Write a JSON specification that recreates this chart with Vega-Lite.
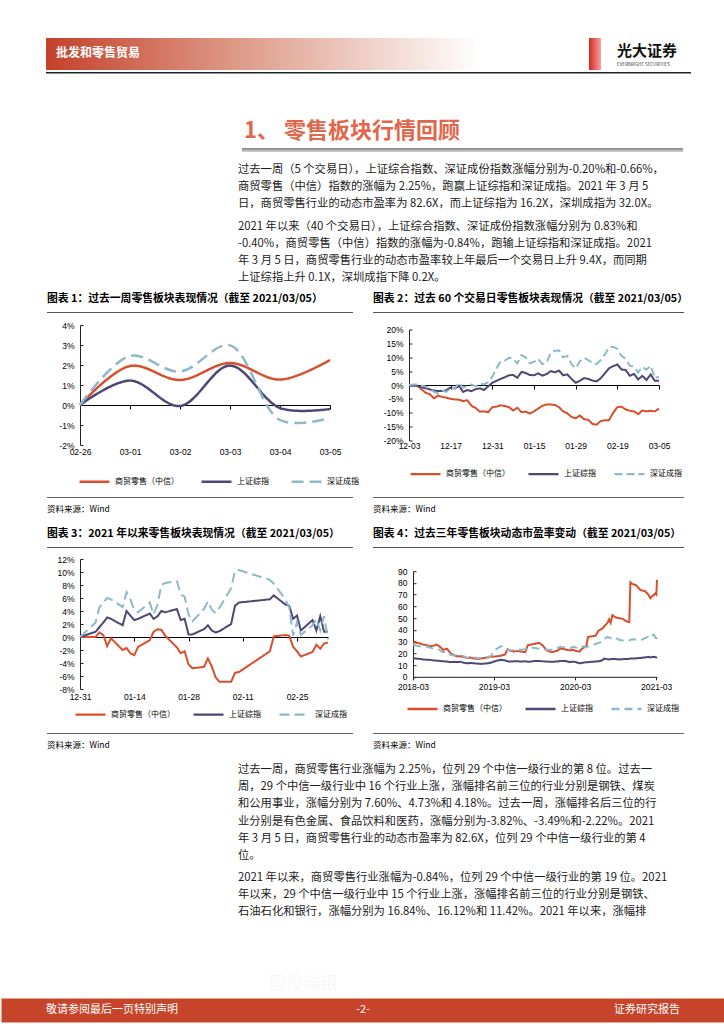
{
"$schema": "https://vega.github.io/schema/vega-lite/v6.json",
"padding": 0,
"background": "white",
"spacing": 0,
"bounds": "flush",
"resolve": {"scale": {"color": "independent", "strokeDash": "independent"}, "legend": {"color": "independent", "strokeDash": "independent"}},
"config": {
  "view": {"stroke": null},
  "font": "Noto Sans CJK SC",
  "concat": {"spacing": 0},
  "axis": {"labelFont": "Liberation Sans", "labelFontSize": 8.5, "labelColor": "#000", "domainColor": "#222", "tickColor": "#222", "grid": false, "labelFlush": false, "labelOverlap": false, "domainWidth": 1, "tickWidth": 1},
  "axisY": {"tickSize": -3, "labelPadding": 9},
  "axisX": {"labelAngle": 0, "tickSize": 4},
  "legend": {"orient": "none", "direction": "horizontal", "symbolType": "stroke", "symbolSize": 900, "labelFontSize": 8, "labelFont": "Noto Sans CJK SC", "labelColor": "#000", "labelOffset": 4, "padding": 0, "columnPadding": 15},
  "text": {"font": "Noto Sans CJK SC"},
  "title": {"font": "Noto Sans CJK SC"}
},
"vconcat": [
  {"width": 724, "height": 38, "data": {"values": [{}]}, "mark": {"type": "text", "text": ""}},
  {"hconcat": [
    {"width": 45, "height": 32, "data": {"values": [{}]}, "mark": {"type": "text", "text": ""}},
    {"width": 435, "height": 32, "data": {"values": [{}]}, "mark": {"type": "text", "text": ""},
     "view": {"stroke": null, "fill": {"gradient": "linear", "x1": 0, "y1": 0, "x2": 1, "y2": 0, "stops": [{"offset": 0, "color": "#C4412A"}, {"offset": 0.45, "color": "#DE9C8A"}, {"offset": 1, "color": "#FFFFFF"}]}},
     "title": {"text": "批发和零售贸易", "anchor": "start", "dx": 10, "offset": -21.5, "fontSize": 12, "fontWeight": "bold", "color": "#FFFFFF"}},
    {"width": 108, "height": 32, "data": {"values": [{}]}, "mark": {"type": "text", "text": ""}},
    {"width": 12, "height": 32, "data": {"values": [{}]}, "mark": {"type": "text", "text": ""},
     "view": {"stroke": null, "fill": {"gradient": "linear", "x1": 0, "y1": 0, "x2": 1, "y2": 0, "stops": [{"offset": 0, "color": "#D7261E"}, {"offset": 1, "color": "#F3A2A0"}]}},
     "title": {"text": "光大证券", "subtitle": "EVERBRIGHT SECURITIES", "anchor": "start", "dx": 28, "offset": -28, "fontSize": 15, "fontWeight": "bold", "color": "#111", "subtitleFontSize": 4.5, "subtitleColor": "#333", "subtitlePadding": 3}}
  ], "spacing": 0, "bounds": "flush"},
  {"width": 724, "height": 32, "data": {"values": [{}]}, "mark": {"type": "text", "text": ""}},
  {"width": 724, "height": 2, "data": {"values": [{}]}, "mark": {"type": "text", "text": ""}},
  {"hconcat": [
    {"width": 45, "height": 1.5, "data": {"values": [{}]}, "mark": {"type": "text", "text": ""}},
    {"width": 645, "height": 1.5, "data": {"values": [{}]}, "mark": {"type": "text", "text": ""}, "view": {"stroke": null, "fill": "#222"}}
  ], "spacing": 0, "bounds": "flush"},
  {"width": 724, "height": 2, "data": {"values": [{}]}, "mark": {"type": "text", "text": ""}},
  {"width": 724, "height": 74, "data": {"values": [{}]}, "mark": {"type": "text", "text": ""}},
  {"hconcat": [
    {"width": 241, "height": 4, "data": {"values": [{}]}, "mark": {"type": "text", "text": ""}},
    {"width": 441, "height": 4, "data": {"values": [{}]}, "mark": {"type": "text", "text": ""},
     "view": {"stroke": null, "fill": {"gradient": "linear", "x1": 0, "y1": 0, "x2": 0, "y2": 1, "stops": [{"offset": 0, "color": "#808080"}, {"offset": 1, "color": "#D5D5D5"}]}},
     "title": {"text": "1、  零售板块行情回顾", "anchor": "start", "dx": 2, "offset": 1, "fontSize": 22, "fontWeight": "bold", "color": "#E2664A"}}
  ], "spacing": 0, "bounds": "flush"},
  {"width": 724, "height": 4, "data": {"values": [{}]}, "mark": {"type": "text", "text": ""}},
  {"width": 724, "height": 9, "data": {"values": [{}]}, "mark": {"type": "text", "text": ""}},
  {"hconcat": [
    {"width": 237, "height": 52, "data": {"values": [{}]}, "mark": {"type": "text", "text": ""}},
    {"width": 446, "height": 52,
     "data": {"values": [
       {"i": 1, "t": "过去一周（5 个交易日），上证综合指数、深证成份指数涨幅分别为-0.20%和-0.66%，"},
       {"i": 2, "t": "商贸零售（中信）指数的涨幅为 2.25%，跑赢上证综指和深证成指。2021 年 3 月 5"},
       {"i": 3, "t": "日，商贸零售行业的动态市盈率为 82.6X，而上证综指为 16.2X，深圳成指为 32.0X。"}
     ]},
     "mark": {"type": "text", "align": "left", "baseline": "middle", "fontSize": 11.3, "color": "#1A1A1A"},
     "encoding": {
       "y": {"field": "i", "type": "ordinal", "axis": null, "scale": {"type": "band", "paddingInner": 0, "paddingOuter": 0}},
       "x": {"datum": 0, "type": "quantitative", "scale": {"domain": [0, 1]}, "axis": null},
       "text": {"field": "t"}
     }}
  ], "spacing": 0, "bounds": "flush"},
  {"width": 724, "height": 52, "data": {"values": [{}]}, "mark": {"type": "text", "text": ""}},
  {"width": 724, "height": 5, "data": {"values": [{}]}, "mark": {"type": "text", "text": ""}},
  {"hconcat": [
    {"width": 237, "height": 69, "data": {"values": [{}]}, "mark": {"type": "text", "text": ""}},
    {"width": 446, "height": 69,
     "data": {"values": [
       {"i": 1, "t": "2021 年以来（40 个交易日），上证综合指数、深证成份指数涨幅分别为 0.83%和"},
       {"i": 2, "t": "-0.40%，商贸零售（中信）指数的涨幅为-0.84%，跑输上证综指和深证成指。2021"},
       {"i": 3, "t": "年 3 月 5 日，商贸零售行业的动态市盈率较上年最后一个交易日上升 9.4X，而同期"},
       {"i": 4, "t": "上证综指上升 0.1X，深圳成指下降 0.2X。"}
     ]},
     "mark": {"type": "text", "align": "left", "baseline": "middle", "fontSize": 11.3, "color": "#1A1A1A"},
     "encoding": {
       "y": {"field": "i", "type": "ordinal", "axis": null, "scale": {"type": "band", "paddingInner": 0, "paddingOuter": 0}},
       "x": {"datum": 0, "type": "quantitative", "scale": {"domain": [0, 1]}, "axis": null},
       "text": {"field": "t"}
     }}
  ], "spacing": 0, "bounds": "flush"},
  {"width": 724, "height": 69, "data": {"values": [{}]}, "mark": {"type": "text", "text": ""}},
  {"width": 724, "height": 25, "data": {"values": [{}]}, "mark": {"type": "text", "text": ""}},
  {"hconcat": [
    {"width": 46, "height": 1, "data": {"values": [{}]}, "mark": {"type": "text", "text": ""}},
    {"width": 306, "height": 1, "data": {"values": [{}]}, "mark": {"type": "text", "text": ""}, "view": {"stroke": null, "fill": "#555"},
     "title": {"text": "图表 1：过去一周零售板块表现情况（截至 2021/03/05）", "anchor": "start", "offset": 3, "fontSize": 10.8, "fontWeight": "bold", "color": "#000"}},
    {"width": 20, "height": 1, "data": {"values": [{}]}, "mark": {"type": "text", "text": ""}},
    {"width": 311, "height": 1, "data": {"values": [{}]}, "mark": {"type": "text", "text": ""}, "view": {"stroke": null, "fill": "#555"},
     "title": {"text": "图表 2：过去 60 个交易日零售板块表现情况（截至 2021/03/05）", "anchor": "start", "offset": 3, "fontSize": 10.8, "fontWeight": "bold", "color": "#000"}}
  ], "spacing": 0, "bounds": "flush"},
  {"width": 724, "height": 1, "data": {"values": [{}]}, "mark": {"type": "text", "text": ""}},
  {"width": 724, "height": 12, "data": {"values": [{}]}, "mark": {"type": "text", "text": ""}},
  {"hconcat": [
    {"width": 79, "height": 120, "data": {"values": [{}]}, "mark": {"type": "text", "text": ""}},
    {"width": 250, "height": 120,
     "data": {"values": [
       {"d":"02-26","s":"r","v":0},{"d":"03-01","s":"r","v":1.95},{"d":"03-02","s":"r","v":1.25},{"d":"03-03","s":"r","v":2.1},{"d":"03-04","s":"r","v":1.27},{"d":"03-05","s":"r","v":2.25},
       {"d":"02-26","s":"p","v":0},{"d":"03-01","s":"p","v":1.22},{"d":"03-02","s":"p","v":-0.05},{"d":"03-03","s":"p","v":1.97},{"d":"03-04","s":"p","v":-0.15},{"d":"03-05","s":"p","v":-0.2},
       {"d":"02-26","s":"b","v":0},{"d":"03-01","s":"b","v":2.45},{"d":"03-02","s":"b","v":1.67},{"d":"03-03","s":"b","v":2.98},{"d":"03-04","s":"b","v":-0.75},{"d":"03-05","s":"b","v":-0.66}
     ]},
     "mark": {"type": "line", "interpolate": "catmull-rom", "strokeWidth": 2.5},
     "encoding": {
       "x": {"field": "d", "type": "ordinal", "sort": null, "scale": {"type": "point", "padding": 0}, "axis": {"title": null, "offset": -40, "labelPadding": 38.5, "domainColor": "#000", "tickColor": "#000"}},
       "y": {"field": "v", "type": "quantitative", "scale": {"domain": [-2, 4], "nice": false, "zero": false}, "axis": {"title": null, "values": [-2,-1,0,1,2,3,4], "labelExpr": "datum.value + '%'"}},
       "color": {"field": "s", "type": "nominal", "scale": {"domain": ["r","p","b"], "range": ["#D94E2B","#4E4674","#8FB8CB"]},
         "legend": {"title": null, "legendX": -2, "legendY": 140, "symbolStrokeWidth": 2.5, "columnPadding": 17, "labelExpr": "datum.label == 'r' ? '商贸零售（中信）' : datum.label == 'p' ? '上证综指' : '深证成指'"}},
       "strokeDash": {"field": "s", "type": "nominal", "scale": {"domain": ["r","p","b"], "range": [[1,0],[1,0],[12,6]]},
         "legend": {"title": null, "legendX": -2, "legendY": 140, "symbolStrokeWidth": 2.5, "columnPadding": 17, "labelExpr": "datum.label == 'r' ? '商贸零售（中信）' : datum.label == 'p' ? '上证综指' : '深证成指'"}}
     }},
    {"width": 79, "height": 120, "data": {"values": [{}]}, "mark": {"type": "text", "text": ""}},
    {"width": 250, "height": 111,
     "data": {"values": [
{"d":"12-03","s":"r","v":0},{"d":"12-04","s":"r","v":-0.1},{"d":"12-07","s":"r","v":-0.3},{"d":"12-08","s":"r","v":-1.5},{"d":"12-09","s":"r","v":-2.8},{"d":"12-10","s":"r","v":-3.3},{"d":"12-11","s":"r","v":-4.8},{"d":"12-14","s":"r","v":-3.8},{"d":"12-15","s":"r","v":-4.3},{"d":"12-16","s":"r","v":-4.6},{"d":"12-17","s":"r","v":-5.0},{"d":"12-18","s":"r","v":-5.2},{"d":"12-21","s":"r","v":-5.3},{"d":"12-22","s":"r","v":-5.8},{"d":"12-23","s":"r","v":-5.5},{"d":"12-24","s":"r","v":-7.5},{"d":"12-25","s":"r","v":-8.3},{"d":"12-28","s":"r","v":-9.6},{"d":"12-29","s":"r","v":-9.5},{"d":"12-30","s":"r","v":-9.8},{"d":"12-31","s":"r","v":-8.0},{"d":"01-04","s":"r","v":-7.8},{"d":"01-05","s":"r","v":-7.3},{"d":"01-06","s":"r","v":-7.6},{"d":"01-07","s":"r","v":-8.0},{"d":"01-08","s":"r","v":-9.2},{"d":"01-11","s":"r","v":-8.2},{"d":"01-12","s":"r","v":-9.8},{"d":"01-13","s":"r","v":-9.6},{"d":"01-14","s":"r","v":-10.3},{"d":"01-15","s":"r","v":-9.5},{"d":"01-18","s":"r","v":-8.5},{"d":"01-19","s":"r","v":-7.5},{"d":"01-20","s":"r","v":-7.0},{"d":"01-21","s":"r","v":-7.0},{"d":"01-22","s":"r","v":-7.2},{"d":"01-25","s":"r","v":-8.0},{"d":"01-26","s":"r","v":-9.5},{"d":"01-27","s":"r","v":-10.2},{"d":"01-28","s":"r","v":-11.5},{"d":"01-29","s":"r","v":-12.0},{"d":"02-01","s":"r","v":-11.0},{"d":"02-02","s":"r","v":-12.3},{"d":"02-03","s":"r","v":-12.5},{"d":"02-04","s":"r","v":-14.0},{"d":"02-05","s":"r","v":-14.3},{"d":"02-08","s":"r","v":-13.0},{"d":"02-09","s":"r","v":-12.7},{"d":"02-10","s":"r","v":-12.7},{"d":"02-18","s":"r","v":-10.0},{"d":"02-19","s":"r","v":-8.0},{"d":"02-22","s":"r","v":-7.8},{"d":"02-23","s":"r","v":-8.8},{"d":"02-24","s":"r","v":-9.3},{"d":"02-25","s":"r","v":-9.5},{"d":"02-26","s":"r","v":-10.5},{"d":"03-01","s":"r","v":-9.2},{"d":"03-02","s":"r","v":-9.5},{"d":"03-03","s":"r","v":-9.3},{"d":"03-04","s":"r","v":-9.5},{"d":"03-05","s":"r","v":-8.5},
{"d":"12-03","s":"p","v":0},{"d":"12-04","s":"p","v":-0.2},{"d":"12-07","s":"p","v":-0.3},{"d":"12-08","s":"p","v":-0.8},{"d":"12-09","s":"p","v":-1.2},{"d":"12-10","s":"p","v":-1.6},{"d":"12-11","s":"p","v":-2.0},{"d":"12-14","s":"p","v":-2.2},{"d":"12-15","s":"p","v":-2.2},{"d":"12-16","s":"p","v":-1.8},{"d":"12-17","s":"p","v":-0.9},{"d":"12-18","s":"p","v":-1.2},{"d":"12-21","s":"p","v":-0.3},{"d":"12-22","s":"p","v":-2.5},{"d":"12-23","s":"p","v":-1.8},{"d":"12-24","s":"p","v":-2.2},{"d":"12-25","s":"p","v":-1.5},{"d":"12-28","s":"p","v":-1.2},{"d":"12-29","s":"p","v":-1.8},{"d":"12-30","s":"p","v":-0.5},{"d":"12-31","s":"p","v":0.8},{"d":"01-04","s":"p","v":1.5},{"d":"01-05","s":"p","v":2.2},{"d":"01-06","s":"p","v":2.8},{"d":"01-07","s":"p","v":3.5},{"d":"01-08","s":"p","v":3.6},{"d":"01-11","s":"p","v":2.6},{"d":"01-12","s":"p","v":4.7},{"d":"01-13","s":"p","v":4.3},{"d":"01-14","s":"p","v":3.6},{"d":"01-15","s":"p","v":3.5},{"d":"01-18","s":"p","v":4.2},{"d":"01-19","s":"p","v":3.4},{"d":"01-20","s":"p","v":3.9},{"d":"01-21","s":"p","v":5.0},{"d":"01-22","s":"p","v":4.6},{"d":"01-25","s":"p","v":5.2},{"d":"01-26","s":"p","v":3.5},{"d":"01-27","s":"p","v":3.8},{"d":"01-28","s":"p","v":2.2},{"d":"01-29","s":"p","v":0.8},{"d":"02-01","s":"p","v":1.5},{"d":"02-02","s":"p","v":2.5},{"d":"02-03","s":"p","v":2.2},{"d":"02-04","s":"p","v":1.6},{"d":"02-05","s":"p","v":1.3},{"d":"02-08","s":"p","v":2.4},{"d":"02-09","s":"p","v":4.2},{"d":"02-10","s":"p","v":6.0},{"d":"02-18","s":"p","v":6.8},{"d":"02-19","s":"p","v":7.4},{"d":"02-22","s":"p","v":5.6},{"d":"02-23","s":"p","v":5.4},{"d":"02-24","s":"p","v":3.3},{"d":"02-25","s":"p","v":4.0},{"d":"02-26","s":"p","v":2.0},{"d":"03-01","s":"p","v":3.3},{"d":"03-02","s":"p","v":1.8},{"d":"03-03","s":"p","v":3.8},{"d":"03-04","s":"p","v":1.5},{"d":"03-05","s":"p","v":1.5},
{"d":"12-03","s":"b","v":0},{"d":"12-04","s":"b","v":0.2},{"d":"12-07","s":"b","v":0.2},{"d":"12-08","s":"b","v":-0.3},{"d":"12-09","s":"b","v":-0.5},{"d":"12-10","s":"b","v":-1.5},{"d":"12-11","s":"b","v":-2.5},{"d":"12-14","s":"b","v":-3.0},{"d":"12-15","s":"b","v":-2.0},{"d":"12-16","s":"b","v":-2.5},{"d":"12-17","s":"b","v":-1.0},{"d":"12-18","s":"b","v":-1.2},{"d":"12-21","s":"b","v":0.8},{"d":"12-22","s":"b","v":-1.0},{"d":"12-23","s":"b","v":-0.2},{"d":"12-24","s":"b","v":0.2},{"d":"12-25","s":"b","v":-0.5},{"d":"12-28","s":"b","v":0.5},{"d":"12-29","s":"b","v":0.2},{"d":"12-30","s":"b","v":1.0},{"d":"12-31","s":"b","v":3.0},{"d":"01-04","s":"b","v":6.0},{"d":"01-05","s":"b","v":8.5},{"d":"01-06","s":"b","v":8.8},{"d":"01-07","s":"b","v":9.8},{"d":"01-08","s":"b","v":9.5},{"d":"01-11","s":"b","v":7.8},{"d":"01-12","s":"b","v":10.8},{"d":"01-13","s":"b","v":10.0},{"d":"01-14","s":"b","v":7.8},{"d":"01-15","s":"b","v":8.3},{"d":"01-18","s":"b","v":9.5},{"d":"01-19","s":"b","v":7.5},{"d":"01-20","s":"b","v":8.0},{"d":"01-21","s":"b","v":11.5},{"d":"01-22","s":"b","v":12.3},{"d":"01-25","s":"b","v":12.5},{"d":"01-26","s":"b","v":10.0},{"d":"01-27","s":"b","v":10.5},{"d":"01-28","s":"b","v":7.5},{"d":"01-29","s":"b","v":6.0},{"d":"02-01","s":"b","v":8.5},{"d":"02-02","s":"b","v":9.8},{"d":"02-03","s":"b","v":9.0},{"d":"02-04","s":"b","v":8.0},{"d":"02-05","s":"b","v":7.5},{"d":"02-08","s":"b","v":9.0},{"d":"02-09","s":"b","v":11.0},{"d":"02-10","s":"b","v":13.5},{"d":"02-18","s":"b","v":13.8},{"d":"02-19","s":"b","v":13.0},{"d":"02-22","s":"b","v":10.5},{"d":"02-23","s":"b","v":9.5},{"d":"02-24","s":"b","v":7.0},{"d":"02-25","s":"b","v":6.5},{"d":"02-26","s":"b","v":4.5},{"d":"03-01","s":"b","v":6.5},{"d":"03-02","s":"b","v":5.5},{"d":"03-03","s":"b","v":7.0},{"d":"03-04","s":"b","v":2.5},{"d":"03-05","s":"b","v":3.0}
     ]},
     "mark": {"type": "line", "strokeWidth": 2},
     "encoding": {
       "x": {"field": "d", "type": "ordinal", "sort": null, "scale": {"type": "point", "padding": 0},
             "axis": {"title": null, "labelExpr": "indexof(['12-03','12-17','12-31','01-15','01-29','02-19','03-05'], datum.value) >= 0 ? datum.value : ''",
                      "tickOpacity": {"condition": {"test": "indexof(['12-03','12-17','12-31','01-15','01-29','02-19','03-05'], datum.value) >= 0", "value": 1}, "value": 0},
                      "labelOverlap": false, "offset": -55.5, "labelPadding": 52.7, "domainColor": "#000", "tickColor": "#000"}},
       "y": {"field": "v", "type": "quantitative", "scale": {"domain": [-20, 20], "nice": false, "zero": false}, "axis": {"title": null, "values": [-20,-15,-10,-5,0,5,10,15,20], "labelExpr": "datum.value + '%'"}},
       "color": {"field": "s", "type": "nominal", "scale": {"domain": ["r","p","b"], "range": ["#D94E2B","#4E4674","#8FB8CB"]},
         "legend": {"title": null, "legendX": 0, "legendY": 128, "symbolStrokeWidth": 2.2, "columnPadding": 14, "labelExpr": "datum.label == 'r' ? '商贸零售（中信）' : datum.label == 'p' ? '上证综指' : '深证成指'"}},
       "strokeDash": {"field": "s", "type": "nominal", "scale": {"domain": ["r","p","b"], "range": [[1,0],[1,0],[8,4]]},
         "legend": {"title": null, "legendX": 0, "legendY": 128, "symbolStrokeWidth": 2.2, "columnPadding": 14, "labelExpr": "datum.label == 'r' ? '商贸零售（中信）' : datum.label == 'p' ? '上证综指' : '深证成指'"}}
     }}
  ], "spacing": 0, "bounds": "flush", "center": true,
  "resolve": {"scale": {"color": "independent", "strokeDash": "independent"}, "legend": {"color": "independent", "strokeDash": "independent"}}},
  {"width": 724, "height": 120, "data": {"values": [{}]}, "mark": {"type": "text", "text": ""}},
  {"width": 724, "height": 52, "data": {"values": [{}]}, "mark": {"type": "text", "text": ""}},
  {"hconcat": [
    {"width": 46, "height": 1, "data": {"values": [{}]}, "mark": {"type": "text", "text": ""}},
    {"width": 306, "height": 1, "data": {"values": [{}]}, "mark": {"type": "text", "text": ""}, "view": {"stroke": null, "fill": "#666"},
     "title": {"text": "资料来源：Wind", "orient": "bottom", "anchor": "start", "offset": 2, "fontSize": 8.5, "fontWeight": "normal", "color": "#000"}},
    {"width": 20, "height": 1, "data": {"values": [{}]}, "mark": {"type": "text", "text": ""}},
    {"width": 311, "height": 1, "data": {"values": [{}]}, "mark": {"type": "text", "text": ""}, "view": {"stroke": null, "fill": "#666"},
     "title": {"text": "资料来源：Wind", "orient": "bottom", "anchor": "start", "offset": 2, "fontSize": 8.5, "fontWeight": "normal", "color": "#000"}}
  ], "spacing": 0, "bounds": "flush"},
  {"width": 724, "height": 1, "data": {"values": [{}]}, "mark": {"type": "text", "text": ""}},
  {"width": 724, "height": 49, "data": {"values": [{}]}, "mark": {"type": "text", "text": ""}},
  {"hconcat": [
    {"width": 46, "height": 1, "data": {"values": [{}]}, "mark": {"type": "text", "text": ""}},
    {"width": 306, "height": 1, "data": {"values": [{}]}, "mark": {"type": "text", "text": ""}, "view": {"stroke": null, "fill": "#555"},
     "title": {"text": "图表 3：2021 年以来零售板块表现情况（截至 2021/03/05）", "anchor": "start", "offset": 3, "fontSize": 10.8, "fontWeight": "bold", "color": "#000"}},
    {"width": 20, "height": 1, "data": {"values": [{}]}, "mark": {"type": "text", "text": ""}},
    {"width": 311, "height": 1, "data": {"values": [{}]}, "mark": {"type": "text", "text": ""}, "view": {"stroke": null, "fill": "#555"},
     "title": {"text": "图表 4：过去三年零售板块动态市盈率变动（截至 2021/03/05）", "anchor": "start", "offset": 3, "fontSize": 10.8, "fontWeight": "bold", "color": "#000"}}
  ], "spacing": 0, "bounds": "flush"},
  {"width": 724, "height": 1, "data": {"values": [{}]}, "mark": {"type": "text", "text": ""}},
  {"width": 724, "height": 11, "data": {"values": [{}]}, "mark": {"type": "text", "text": ""}},
  {"hconcat": [
    {"width": 79, "height": 130, "data": {"values": [{}]}, "mark": {"type": "text", "text": ""}},
    {"width": 248, "height": 130,
     "data": {"values": [
{"d":"2020-12-31","s":"r","v":0},{"d":"2021-01-04","s":"r","v":0},{"d":"2021-01-05","s":"r","v":0.7},{"d":"2021-01-06","s":"r","v":0.3},{"d":"2021-01-07","s":"r","v":-1.4},{"d":"2021-01-08","s":"r","v":-0.2},{"d":"2021-01-11","s":"r","v":-2.0},{"d":"2021-01-12","s":"r","v":-1.7},{"d":"2021-01-13","s":"r","v":-2.5},{"d":"2021-01-14","s":"r","v":-2.8},{"d":"2021-01-15","s":"r","v":-1.5},{"d":"2021-01-18","s":"r","v":-0.5},{"d":"2021-01-19","s":"r","v":0.8},{"d":"2021-01-20","s":"r","v":1.2},{"d":"2021-01-21","s":"r","v":1.1},{"d":"2021-01-22","s":"r","v":0.2},{"d":"2021-01-25","s":"r","v":-1.6},{"d":"2021-01-26","s":"r","v":-2.5},{"d":"2021-01-27","s":"r","v":-2.2},{"d":"2021-01-28","s":"r","v":-4.2},{"d":"2021-01-29","s":"r","v":-4.8},{"d":"2021-02-01","s":"r","v":-4.6},{"d":"2021-02-02","s":"r","v":-3.3},{"d":"2021-02-03","s":"r","v":-4.5},{"d":"2021-02-04","s":"r","v":-6.2},{"d":"2021-02-05","s":"r","v":-6.9},{"d":"2021-02-08","s":"r","v":-6.9},{"d":"2021-02-09","s":"r","v":-5.5},{"d":"2021-02-10","s":"r","v":-5.4},{"d":"2021-02-18","s":"r","v":-2.2},{"d":"2021-02-19","s":"r","v":0.1},{"d":"2021-02-22","s":"r","v":0.3},{"d":"2021-02-23","s":"r","v":0.2},{"d":"2021-02-24","s":"r","v":-1.5},{"d":"2021-02-25","s":"r","v":-2.2},{"d":"2021-02-26","s":"r","v":-3.0},{"d":"2021-03-01","s":"r","v":-2.3},{"d":"2021-03-02","s":"r","v":-1.2},{"d":"2021-03-03","s":"r","v":-1.8},{"d":"2021-03-04","s":"r","v":-1.0},{"d":"2021-03-05","s":"r","v":-0.84},
{"d":"2020-12-31","s":"p","v":0},{"d":"2021-01-04","s":"p","v":0.8},{"d":"2021-01-05","s":"p","v":1.5},{"d":"2021-01-06","s":"p","v":2.2},{"d":"2021-01-07","s":"p","v":3.0},{"d":"2021-01-08","s":"p","v":2.8},{"d":"2021-01-11","s":"p","v":1.8},{"d":"2021-01-12","s":"p","v":4.0},{"d":"2021-01-13","s":"p","v":3.3},{"d":"2021-01-14","s":"p","v":2.6},{"d":"2021-01-15","s":"p","v":2.8},{"d":"2021-01-18","s":"p","v":3.6},{"d":"2021-01-19","s":"p","v":2.8},{"d":"2021-01-20","s":"p","v":3.2},{"d":"2021-01-21","s":"p","v":4.0},{"d":"2021-01-22","s":"p","v":3.8},{"d":"2021-01-25","s":"p","v":4.3},{"d":"2021-01-26","s":"p","v":2.6},{"d":"2021-01-27","s":"p","v":2.8},{"d":"2021-01-28","s":"p","v":0.4},{"d":"2021-01-29","s":"p","v":0.4},{"d":"2021-02-01","s":"p","v":1.2},{"d":"2021-02-02","s":"p","v":1.8},{"d":"2021-02-03","s":"p","v":1.0},{"d":"2021-02-04","s":"p","v":0.7},{"d":"2021-02-05","s":"p","v":0.9},{"d":"2021-02-08","s":"p","v":2.0},{"d":"2021-02-09","s":"p","v":4.8},{"d":"2021-02-10","s":"p","v":5.3},{"d":"2021-02-18","s":"p","v":5.8},{"d":"2021-02-19","s":"p","v":6.4},{"d":"2021-02-22","s":"p","v":5.0},{"d":"2021-02-23","s":"p","v":4.8},{"d":"2021-02-24","s":"p","v":2.8},{"d":"2021-02-25","s":"p","v":3.3},{"d":"2021-02-26","s":"p","v":1.0},{"d":"2021-03-01","s":"p","v":2.6},{"d":"2021-03-02","s":"p","v":1.0},{"d":"2021-03-03","s":"p","v":3.2},{"d":"2021-03-04","s":"p","v":0.8},{"d":"2021-03-05","s":"p","v":0.83},
{"d":"2020-12-31","s":"b","v":0},{"d":"2021-01-04","s":"b","v":2.2},{"d":"2021-01-05","s":"b","v":4.5},{"d":"2021-01-06","s":"b","v":5.3},{"d":"2021-01-07","s":"b","v":6.0},{"d":"2021-01-08","s":"b","v":5.8},{"d":"2021-01-11","s":"b","v":4.6},{"d":"2021-01-12","s":"b","v":6.9},{"d":"2021-01-13","s":"b","v":5.8},{"d":"2021-01-14","s":"b","v":4.2},{"d":"2021-01-15","s":"b","v":3.8},{"d":"2021-01-18","s":"b","v":5.3},{"d":"2021-01-19","s":"b","v":3.5},{"d":"2021-01-20","s":"b","v":5.0},{"d":"2021-01-21","s":"b","v":8.0},{"d":"2021-01-22","s":"b","v":8.3},{"d":"2021-01-25","s":"b","v":8.6},{"d":"2021-01-26","s":"b","v":6.5},{"d":"2021-01-27","s":"b","v":6.2},{"d":"2021-01-28","s":"b","v":3.5},{"d":"2021-01-29","s":"b","v":2.4},{"d":"2021-02-01","s":"b","v":4.3},{"d":"2021-02-02","s":"b","v":5.5},{"d":"2021-02-03","s":"b","v":4.2},{"d":"2021-02-04","s":"b","v":3.7},{"d":"2021-02-05","s":"b","v":4.5},{"d":"2021-02-08","s":"b","v":7.5},{"d":"2021-02-09","s":"b","v":10.2},{"d":"2021-02-10","s":"b","v":10.3},{"d":"2021-02-18","s":"b","v":8.8},{"d":"2021-02-19","s":"b","v":8.2},{"d":"2021-02-22","s":"b","v":5.8},{"d":"2021-02-23","s":"b","v":4.5},{"d":"2021-02-24","s":"b","v":0.2},{"d":"2021-02-25","s":"b","v":2.3},{"d":"2021-02-26","s":"b","v":0.3},{"d":"2021-03-01","s":"b","v":1.8},{"d":"2021-03-02","s":"b","v":2.7},{"d":"2021-03-03","s":"b","v":1.0},{"d":"2021-03-04","s":"b","v":3.2},{"d":"2021-03-05","s":"b","v":-0.4}
     ]},
     "mark": {"type": "line", "strokeWidth": 2},
     "encoding": {
       "x": {"field": "d", "type": "temporal", "scale": {"type": "utc", "domain": [{"year": 2020, "month": 12, "date": 31, "utc": true}, {"year": 2021, "month": 3, "date": 5, "utc": true}]},
             "axis": {"title": null, "format": "%m-%d", "values": [{"year": 2020, "month": 12, "date": 31, "utc": true}, {"year": 2021, "month": 1, "date": 14, "utc": true}, {"year": 2021, "month": 1, "date": 28, "utc": true}, {"year": 2021, "month": 2, "date": 11, "utc": true}, {"year": 2021, "month": 2, "date": 25, "utc": true}], "offset": -52, "labelPadding": 51.5, "domainColor": "#000", "tickColor": "#000"}},
       "y": {"field": "v", "type": "quantitative", "scale": {"domain": [-8, 12], "nice": false, "zero": false}, "axis": {"title": null, "values": [-8,-6,-4,-2,0,2,4,6,8,10,12], "labelExpr": "datum.value + '%'"}},
       "color": {"field": "s", "type": "nominal", "scale": {"domain": ["r","p","b"], "range": ["#D94E2B","#4E4674","#8FB8CB"]},
         "legend": {"title": null, "legendX": -6, "legendY": 139, "symbolStrokeWidth": 2.2, "columnPadding": 14, "labelExpr": "datum.label == 'r' ? '商贸零售（中信）' : datum.label == 'p' ? '上证综指' : '深证成指'"}},
       "strokeDash": {"field": "s", "type": "nominal", "scale": {"domain": ["r","p","b"], "range": [[1,0],[1,0],[10,5]]},
         "legend": {"title": null, "legendX": -6, "legendY": 139, "symbolStrokeWidth": 2.2, "columnPadding": 14, "labelExpr": "datum.label == 'r' ? '商贸零售（中信）' : datum.label == 'p' ? '上证综指' : '深证成指'"}}
     }},
    {"width": 85, "height": 130, "data": {"values": [{}]}, "mark": {"type": "text", "text": ""}},
    {"width": 244, "height": 105.6,
     "data": {"values": [
{"d":"2018-03-01","s":"r","v":29.5},{"d":"2018-03-15","s":"r","v":29.0},{"d":"2018-04-01","s":"r","v":28.5},{"d":"2018-04-15","s":"r","v":27.5},{"d":"2018-05-01","s":"r","v":27.0},{"d":"2018-05-15","s":"r","v":26.0},{"d":"2018-06-01","s":"r","v":26.5},{"d":"2018-06-15","s":"r","v":27.5},{"d":"2018-07-01","s":"r","v":25.5},{"d":"2018-07-15","s":"r","v":23.0},{"d":"2018-08-01","s":"r","v":24.0},{"d":"2018-08-15","s":"r","v":20.5},{"d":"2018-09-01","s":"r","v":18.5},{"d":"2018-09-15","s":"r","v":17.5},{"d":"2018-10-01","s":"r","v":17.5},{"d":"2018-10-15","s":"r","v":16.8},{"d":"2018-11-01","s":"r","v":16.0},{"d":"2018-11-15","s":"r","v":16.5},{"d":"2018-12-01","s":"r","v":15.5},{"d":"2018-12-15","s":"r","v":15.3},{"d":"2019-01-01","s":"r","v":15.5},{"d":"2019-01-15","s":"r","v":16.0},{"d":"2019-02-01","s":"r","v":16.5},{"d":"2019-02-15","s":"r","v":17.0},{"d":"2019-03-01","s":"r","v":17.3},{"d":"2019-03-15","s":"r","v":17.5},{"d":"2019-04-01","s":"r","v":18.0},{"d":"2019-04-20","s":"r","v":19.0},{"d":"2019-05-01","s":"r","v":23.5},{"d":"2019-05-15","s":"r","v":22.0},{"d":"2019-06-01","s":"r","v":21.5},{"d":"2019-06-15","s":"r","v":22.0},{"d":"2019-07-01","s":"r","v":21.5},{"d":"2019-07-20","s":"r","v":21.0},{"d":"2019-08-01","s":"r","v":27.0},{"d":"2019-08-15","s":"r","v":27.5},{"d":"2019-09-01","s":"r","v":28.0},{"d":"2019-09-20","s":"r","v":29.0},{"d":"2019-10-05","s":"r","v":27.0},{"d":"2019-10-25","s":"r","v":22.5},{"d":"2019-11-15","s":"r","v":21.0},{"d":"2019-12-10","s":"r","v":22.0},{"d":"2019-12-25","s":"r","v":24.0},{"d":"2020-01-15","s":"r","v":23.5},{"d":"2020-02-05","s":"r","v":22.5},{"d":"2020-02-20","s":"r","v":23.0},{"d":"2020-03-05","s":"r","v":22.0},{"d":"2020-03-20","s":"r","v":21.5},{"d":"2020-04-05","s":"r","v":24.5},{"d":"2020-04-20","s":"r","v":26.0},{"d":"2020-04-28","s":"r","v":34.0},{"d":"2020-05-15","s":"r","v":34.5},{"d":"2020-06-01","s":"r","v":35.0},{"d":"2020-06-15","s":"r","v":39.5},{"d":"2020-07-01","s":"r","v":41.0},{"d":"2020-07-10","s":"r","v":43.0},{"d":"2020-07-25","s":"r","v":46.0},{"d":"2020-08-01","s":"r","v":49.0},{"d":"2020-08-08","s":"r","v":46.0},{"d":"2020-08-16","s":"r","v":52.5},{"d":"2020-09-01","s":"r","v":50.5},{"d":"2020-09-15","s":"r","v":50.0},{"d":"2020-10-01","s":"r","v":49.5},{"d":"2020-10-15","s":"r","v":47.5},{"d":"2020-10-31","s":"r","v":46.5},{"d":"2020-11-05","s":"r","v":80.5},{"d":"2020-11-15","s":"r","v":79.0},{"d":"2020-12-01","s":"r","v":78.0},{"d":"2020-12-20","s":"r","v":74.0},{"d":"2021-01-10","s":"r","v":73.0},{"d":"2021-01-25","s":"r","v":70.0},{"d":"2021-02-03","s":"r","v":67.0},{"d":"2021-02-10","s":"r","v":68.5},{"d":"2021-02-19","s":"r","v":70.0},{"d":"2021-02-25","s":"r","v":71.0},{"d":"2021-03-02","s":"r","v":70.0},{"d":"2021-03-05","s":"r","v":82.6},
{"d":"2018-03-01","s":"p","v":16.0},{"d":"2018-03-15","s":"p","v":15.5},{"d":"2018-04-01","s":"p","v":15.2},{"d":"2018-04-15","s":"p","v":14.8},{"d":"2018-05-01","s":"p","v":14.5},{"d":"2018-05-15","s":"p","v":14.5},{"d":"2018-06-01","s":"p","v":14.0},{"d":"2018-06-15","s":"p","v":13.8},{"d":"2018-07-01","s":"p","v":13.5},{"d":"2018-07-15","s":"p","v":13.2},{"d":"2018-08-01","s":"p","v":13.0},{"d":"2018-08-15","s":"p","v":12.5},{"d":"2018-09-01","s":"p","v":12.8},{"d":"2018-09-15","s":"p","v":12.5},{"d":"2018-10-01","s":"p","v":12.8},{"d":"2018-10-15","s":"p","v":12.0},{"d":"2018-11-01","s":"p","v":11.5},{"d":"2018-11-15","s":"p","v":11.8},{"d":"2018-12-01","s":"p","v":11.5},{"d":"2018-12-15","s":"p","v":11.3},{"d":"2019-01-01","s":"p","v":11.0},{"d":"2019-01-15","s":"p","v":11.2},{"d":"2019-02-01","s":"p","v":11.5},{"d":"2019-02-15","s":"p","v":12.0},{"d":"2019-03-01","s":"p","v":13.0},{"d":"2019-03-15","s":"p","v":13.8},{"d":"2019-04-01","s":"p","v":14.5},{"d":"2019-04-20","s":"p","v":14.0},{"d":"2019-05-01","s":"p","v":13.2},{"d":"2019-05-15","s":"p","v":13.0},{"d":"2019-06-01","s":"p","v":13.2},{"d":"2019-06-15","s":"p","v":13.3},{"d":"2019-07-01","s":"p","v":13.0},{"d":"2019-07-20","s":"p","v":13.2},{"d":"2019-08-01","s":"p","v":12.8},{"d":"2019-08-15","s":"p","v":13.0},{"d":"2019-09-01","s":"p","v":13.5},{"d":"2019-09-20","s":"p","v":13.5},{"d":"2019-10-05","s":"p","v":13.2},{"d":"2019-10-25","s":"p","v":13.0},{"d":"2019-11-15","s":"p","v":12.8},{"d":"2019-12-10","s":"p","v":13.0},{"d":"2019-12-25","s":"p","v":13.5},{"d":"2020-01-15","s":"p","v":13.5},{"d":"2020-02-05","s":"p","v":12.5},{"d":"2020-02-20","s":"p","v":13.0},{"d":"2020-03-05","s":"p","v":12.5},{"d":"2020-03-20","s":"p","v":11.5},{"d":"2020-04-05","s":"p","v":12.0},{"d":"2020-04-20","s":"p","v":12.5},{"d":"2020-04-28","s":"p","v":12.5},{"d":"2020-05-15","s":"p","v":12.8},{"d":"2020-06-01","s":"p","v":13.0},{"d":"2020-06-15","s":"p","v":13.2},{"d":"2020-07-01","s":"p","v":14.0},{"d":"2020-07-10","s":"p","v":15.5},{"d":"2020-07-25","s":"p","v":15.0},{"d":"2020-08-01","s":"p","v":14.8},{"d":"2020-08-08","s":"p","v":15.0},{"d":"2020-08-16","s":"p","v":15.3},{"d":"2020-09-01","s":"p","v":15.0},{"d":"2020-09-15","s":"p","v":14.8},{"d":"2020-10-01","s":"p","v":15.0},{"d":"2020-10-15","s":"p","v":15.2},{"d":"2020-10-31","s":"p","v":15.3},{"d":"2020-11-05","s":"p","v":15.5},{"d":"2020-11-15","s":"p","v":15.5},{"d":"2020-12-01","s":"p","v":15.8},{"d":"2020-12-20","s":"p","v":16.0},{"d":"2021-01-10","s":"p","v":16.5},{"d":"2021-01-25","s":"p","v":17.0},{"d":"2021-02-03","s":"p","v":16.5},{"d":"2021-02-10","s":"p","v":16.8},{"d":"2021-02-19","s":"p","v":17.0},{"d":"2021-02-25","s":"p","v":16.8},{"d":"2021-03-02","s":"p","v":16.5},{"d":"2021-03-05","s":"p","v":16.2},
{"d":"2018-03-01","s":"b","v":27.5},{"d":"2018-03-15","s":"b","v":26.5},{"d":"2018-04-01","s":"b","v":26.0},{"d":"2018-04-15","s":"b","v":25.5},{"d":"2018-05-01","s":"b","v":25.8},{"d":"2018-05-15","s":"b","v":25.0},{"d":"2018-06-01","s":"b","v":24.0},{"d":"2018-06-15","s":"b","v":24.5},{"d":"2018-07-01","s":"b","v":22.5},{"d":"2018-07-15","s":"b","v":21.0},{"d":"2018-08-01","s":"b","v":21.5},{"d":"2018-08-15","s":"b","v":19.0},{"d":"2018-09-01","s":"b","v":18.0},{"d":"2018-09-15","s":"b","v":19.0},{"d":"2018-10-01","s":"b","v":19.0},{"d":"2018-10-15","s":"b","v":17.5},{"d":"2018-11-01","s":"b","v":16.0},{"d":"2018-11-15","s":"b","v":17.0},{"d":"2018-12-01","s":"b","v":16.5},{"d":"2018-12-15","s":"b","v":16.0},{"d":"2019-01-01","s":"b","v":16.2},{"d":"2019-01-15","s":"b","v":16.5},{"d":"2019-02-01","s":"b","v":17.0},{"d":"2019-02-15","s":"b","v":17.5},{"d":"2019-03-01","s":"b","v":22.5},{"d":"2019-03-15","s":"b","v":24.0},{"d":"2019-04-01","s":"b","v":26.0},{"d":"2019-04-20","s":"b","v":25.5},{"d":"2019-05-01","s":"b","v":23.0},{"d":"2019-05-15","s":"b","v":22.5},{"d":"2019-06-01","s":"b","v":23.0},{"d":"2019-06-15","s":"b","v":23.5},{"d":"2019-07-01","s":"b","v":23.0},{"d":"2019-07-20","s":"b","v":23.5},{"d":"2019-08-01","s":"b","v":24.5},{"d":"2019-08-15","s":"b","v":25.0},{"d":"2019-09-01","s":"b","v":24.5},{"d":"2019-09-20","s":"b","v":24.0},{"d":"2019-10-05","s":"b","v":23.5},{"d":"2019-10-25","s":"b","v":23.0},{"d":"2019-11-15","s":"b","v":23.0},{"d":"2019-12-10","s":"b","v":24.5},{"d":"2019-12-25","s":"b","v":25.5},{"d":"2020-01-15","s":"b","v":25.0},{"d":"2020-02-05","s":"b","v":24.0},{"d":"2020-02-20","s":"b","v":25.5},{"d":"2020-03-05","s":"b","v":25.0},{"d":"2020-03-20","s":"b","v":24.0},{"d":"2020-04-05","s":"b","v":26.0},{"d":"2020-04-20","s":"b","v":25.0},{"d":"2020-04-28","s":"b","v":26.0},{"d":"2020-05-15","s":"b","v":27.0},{"d":"2020-06-01","s":"b","v":28.0},{"d":"2020-06-15","s":"b","v":29.0},{"d":"2020-07-01","s":"b","v":29.5},{"d":"2020-07-10","s":"b","v":32.0},{"d":"2020-07-25","s":"b","v":34.0},{"d":"2020-08-01","s":"b","v":33.5},{"d":"2020-08-08","s":"b","v":33.0},{"d":"2020-08-16","s":"b","v":34.0},{"d":"2020-09-01","s":"b","v":33.0},{"d":"2020-09-15","s":"b","v":31.5},{"d":"2020-10-01","s":"b","v":31.0},{"d":"2020-10-15","s":"b","v":31.5},{"d":"2020-10-31","s":"b","v":31.0},{"d":"2020-11-05","s":"b","v":31.5},{"d":"2020-11-15","s":"b","v":32.0},{"d":"2020-12-01","s":"b","v":31.5},{"d":"2020-12-20","s":"b","v":31.0},{"d":"2021-01-10","s":"b","v":33.0},{"d":"2021-01-25","s":"b","v":34.0},{"d":"2021-02-03","s":"b","v":33.0},{"d":"2021-02-10","s":"b","v":35.0},{"d":"2021-02-19","s":"b","v":36.0},{"d":"2021-02-25","s":"b","v":33.5},{"d":"2021-03-02","s":"b","v":33.0},{"d":"2021-03-05","s":"b","v":32.0}
     ]},
     "mark": {"type": "line", "strokeWidth": 2},
     "encoding": {
       "x": {"field": "d", "type": "temporal", "scale": {"type": "utc", "domain": [{"year": 2018, "month": 3, "date": 1, "utc": true}, {"year": 2021, "month": 3, "date": 5, "utc": true}]},
             "axis": {"title": null, "format": "%Y-%m", "values": [{"year": 2018, "month": 3, "date": 1, "utc": true}, {"year": 2019, "month": 3, "date": 1, "utc": true}, {"year": 2020, "month": 3, "date": 1, "utc": true}, {"year": 2021, "month": 3, "date": 1, "utc": true}], "tickSize": 3, "labelPadding": 2.7}},
       "y": {"field": "v", "type": "quantitative", "scale": {"domain": [0, 90], "nice": false, "zero": false}, "axis": {"title": null, "values": [0,10,20,30,40,50,60,70,80,90]}},
       "color": {"field": "s", "type": "nominal", "scale": {"domain": ["r","p","b"], "range": ["#D94E2B","#4E4674","#8FB8CB"]},
         "legend": {"title": null, "legendX": -7, "legendY": 121, "symbolStrokeWidth": 2.5, "columnPadding": 13, "labelExpr": "datum.label == 'r' ? '商贸零售（中信）' : datum.label == 'p' ? '上证综指' : '深证成指'"}},
       "strokeDash": {"field": "s", "type": "nominal", "scale": {"domain": ["r","p","b"], "range": [[1,0],[1,0],[8,5]]},
         "legend": {"title": null, "legendX": -7, "legendY": 121, "symbolStrokeWidth": 2.5, "columnPadding": 13, "labelExpr": "datum.label == 'r' ? '商贸零售（中信）' : datum.label == 'p' ? '上证综指' : '深证成指'"}}
     }}
  ], "spacing": 0, "bounds": "flush", "center": true,
  "resolve": {"scale": {"color": "independent", "strokeDash": "independent"}, "legend": {"color": "independent", "strokeDash": "independent"}}},
  {"width": 724, "height": 130, "data": {"values": [{}]}, "mark": {"type": "text", "text": ""}},
  {"width": 724, "height": 44, "data": {"values": [{}]}, "mark": {"type": "text", "text": ""}},
  {"hconcat": [
    {"width": 46, "height": 1, "data": {"values": [{}]}, "mark": {"type": "text", "text": ""}},
    {"width": 306, "height": 1, "data": {"values": [{}]}, "mark": {"type": "text", "text": ""}, "view": {"stroke": null, "fill": "#666"},
     "title": {"text": "资料来源：Wind", "orient": "bottom", "anchor": "start", "offset": 2, "fontSize": 8.5, "fontWeight": "normal", "color": "#000"}},
    {"width": 20, "height": 1, "data": {"values": [{}]}, "mark": {"type": "text", "text": ""}},
    {"width": 311, "height": 1, "data": {"values": [{}]}, "mark": {"type": "text", "text": ""}, "view": {"stroke": null, "fill": "#666"},
     "title": {"text": "资料来源：Wind", "orient": "bottom", "anchor": "start", "offset": 2, "fontSize": 8.5, "fontWeight": "normal", "color": "#000"}}
  ], "spacing": 0, "bounds": "flush"},
  {"width": 724, "height": 1, "data": {"values": [{}]}, "mark": {"type": "text", "text": ""}},
  {"width": 724, "height": 27, "data": {"values": [{}]}, "mark": {"type": "text", "text": ""}},
  {"hconcat": [
    {"width": 237, "height": 104, "data": {"values": [{}]}, "mark": {"type": "text", "text": ""}},
    {"width": 446, "height": 104,
     "data": {"values": [
       {"i": 1, "t": "过去一周，商贸零售行业涨幅为 2.25%，位列 29 个中信一级行业的第 8 位。过去一"},
       {"i": 2, "t": "周，29 个中信一级行业中 16 个行业上涨，涨幅排名前三位的行业分别是钢铁、煤炭"},
       {"i": 3, "t": "和公用事业，涨幅分别为 7.60%、4.73%和 4.18%。过去一周，涨幅排名后三位的行"},
       {"i": 4, "t": "业分别是有色金属、食品饮料和医药，涨幅分别为-3.82%、-3.49%和-2.22%。2021"},
       {"i": 5, "t": "年 3 月 5 日，商贸零售行业的动态市盈率为 82.6X，位列 29 个中信一级行业的第 4"},
       {"i": 6, "t": "位。"}
     ]},
     "mark": {"type": "text", "align": "left", "baseline": "middle", "fontSize": 11.3, "color": "#1A1A1A"},
     "encoding": {
       "y": {"field": "i", "type": "ordinal", "axis": null, "scale": {"type": "band", "paddingInner": 0, "paddingOuter": 0}},
       "x": {"datum": 0, "type": "quantitative", "scale": {"domain": [0, 1]}, "axis": null},
       "text": {"field": "t"}
     }}
  ], "spacing": 0, "bounds": "flush"},
  {"width": 724, "height": 104, "data": {"values": [{}]}, "mark": {"type": "text", "text": ""}},
  {"width": 724, "height": 4, "data": {"values": [{}]}, "mark": {"type": "text", "text": ""}},
  {"hconcat": [
    {"width": 237, "height": 52, "data": {"values": [{}]}, "mark": {"type": "text", "text": ""}},
    {"width": 446, "height": 52,
     "data": {"values": [
       {"i": 1, "t": "2021 年以来，商贸零售行业涨幅为-0.84%，位列 29 个中信一级行业的第 19 位。2021"},
       {"i": 2, "t": "年以来，29 个中信一级行业中 15 个行业上涨，涨幅排名前三位的行业分别是钢铁、"},
       {"i": 3, "t": "石油石化和银行，涨幅分别为 16.84%、16.12%和 11.42%。2021 年以来，涨幅排"}
     ]},
     "mark": {"type": "text", "align": "left", "baseline": "middle", "fontSize": 11.3, "color": "#1A1A1A"},
     "encoding": {
       "y": {"field": "i", "type": "ordinal", "axis": null, "scale": {"type": "band", "paddingInner": 0, "paddingOuter": 0}},
       "x": {"datum": 0, "type": "quantitative", "scale": {"domain": [0, 1]}, "axis": null},
       "text": {"field": "t"}
     }}
  ], "spacing": 0, "bounds": "flush"},
  {"width": 724, "height": 52, "data": {"values": [{}]}, "mark": {"type": "text", "text": ""}},
  {"width": 724, "height": 77, "data": {"values": [{}]}, "mark": {"type": "text", "text": ""},
   "title": {"text": "国投瑞银", "orient": "bottom", "anchor": "start", "dx": 268, "offset": -22, "fontSize": 17, "fontWeight": "normal", "color": "#F7F7F7"}},
  {"width": 724, "height": 24,
   "data": {"values": [{"k": "a", "t": "敬请参阅最后一页特别声明"}, {"k": "b", "t": "-2-"}, {"k": "c", "t": "证券研究报告"}]},
   "view": {"fill": "#C5442A", "stroke": "#E6A392", "strokeWidth": 1},
   "encoding": {
     "x": {"field": "k", "type": "nominal", "scale": {"type": "point", "domain": ["a","b","c"], "padding": 0.1417}, "axis": null},
     "text": {"field": "t"}
   },
   "layer": [
     {"transform": [{"filter": "datum.k == 'a'"}], "mark": {"type": "text", "align": "left", "baseline": "middle", "color": "#FFFFFF", "fontSize": 11}},
     {"transform": [{"filter": "datum.k == 'b'"}], "mark": {"type": "text", "align": "center", "baseline": "middle", "color": "#FFFFFF", "fontSize": 11}},
     {"transform": [{"filter": "datum.k == 'c'"}], "mark": {"type": "text", "align": "right", "baseline": "middle", "color": "#FFFFFF", "fontSize": 11}}
   ]},
  {"width": 724, "height": 2, "data": {"values": [{}]}, "mark": {"type": "text", "text": ""}}
]
}
